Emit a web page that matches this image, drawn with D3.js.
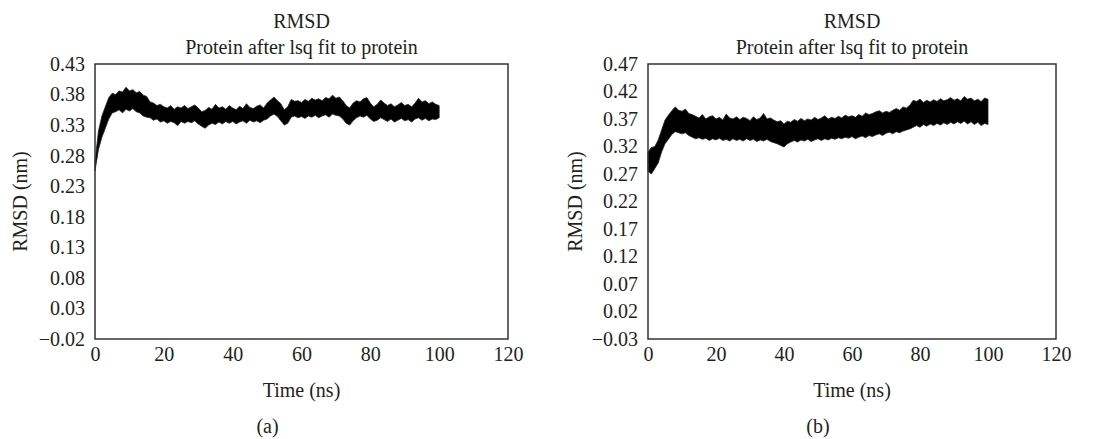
<!DOCTYPE html>
<html>
<head>
    <meta charset="utf-8">
    <title>RMSD</title>
    <style>
        body { margin: 0; background: #fff; }
        text { font-family: "Liberation Serif", "DejaVu Serif", serif; fill: #231f20; }
        .frame { fill: none; stroke: #333; stroke-width: 1.5px; }
        .band { fill: #000; stroke: #222; stroke-width: 0.8px; stroke-linejoin: miter; }
    </style>
</head>
<body>
<script src="https://cdn.jsdelivr.net/npm/d3@7"></script>
<script>
    // time axis shared by both traces (ns)
    var timeNs = d3.range(0, 101);

    // panel (a): lower / upper envelope of the RMSD trace (nm)
    var rmsdA_lo = [0.255, 0.29, 0.31, 0.325, 0.340, 0.350, 0.352, 0.355, 0.350, 0.356,
        0.353, 0.357, 0.352, 0.350, 0.345, 0.343, 0.342, 0.338, 0.340, 0.335,
        0.337, 0.333, 0.336, 0.334, 0.329, 0.336, 0.333, 0.336, 0.334, 0.337,
        0.332, 0.328, 0.325, 0.330, 0.333, 0.331, 0.335, 0.332, 0.336, 0.333,
        0.336, 0.332, 0.335, 0.337, 0.333, 0.338, 0.335, 0.337, 0.334, 0.338,
        0.340, 0.345, 0.348, 0.344, 0.337, 0.330, 0.333, 0.343, 0.345, 0.342,
        0.344, 0.341, 0.345, 0.343, 0.346, 0.342, 0.345, 0.347, 0.343, 0.348,
        0.346, 0.345, 0.340, 0.333, 0.330, 0.337, 0.342, 0.345, 0.343, 0.346,
        0.340, 0.336, 0.338, 0.342, 0.339, 0.336, 0.340, 0.335, 0.338, 0.341,
        0.337, 0.339, 0.335, 0.340, 0.342, 0.338, 0.341, 0.337, 0.340, 0.339, 0.342];
    var rmsdA_hi = [0.27, 0.32, 0.345, 0.360, 0.375, 0.382, 0.380, 0.386, 0.384, 0.392,
        0.386, 0.388, 0.383, 0.385, 0.379, 0.377, 0.368, 0.366, 0.362, 0.364,
        0.360, 0.358, 0.362, 0.356, 0.360, 0.358, 0.362, 0.357, 0.360, 0.363,
        0.358, 0.352, 0.354, 0.359, 0.356, 0.364, 0.358, 0.360, 0.356, 0.362,
        0.358, 0.355, 0.361, 0.357, 0.365, 0.359, 0.357, 0.361, 0.363, 0.358,
        0.366, 0.371, 0.376, 0.370, 0.365, 0.355, 0.360, 0.372, 0.369, 0.370,
        0.367, 0.372, 0.369, 0.374, 0.371, 0.373, 0.370, 0.375, 0.373, 0.379,
        0.374, 0.376, 0.370, 0.362, 0.358, 0.366, 0.370, 0.368, 0.373, 0.375,
        0.366, 0.360, 0.364, 0.371, 0.366, 0.362, 0.365, 0.360, 0.363, 0.367,
        0.362, 0.364, 0.360, 0.366, 0.374, 0.368, 0.370, 0.365, 0.368, 0.364, 0.362];

    // panel (b)
    var rmsdB_lo = [0.275, 0.270, 0.280, 0.290, 0.310, 0.325, 0.333, 0.342, 0.347, 0.345,
        0.343, 0.345, 0.340, 0.337, 0.334, 0.336, 0.333, 0.335, 0.331, 0.334,
        0.332, 0.335, 0.331, 0.333, 0.330, 0.334, 0.331, 0.333, 0.330, 0.334,
        0.331, 0.333, 0.329, 0.332, 0.330, 0.333, 0.329, 0.327, 0.325, 0.322,
        0.319, 0.325, 0.328, 0.331, 0.328, 0.332, 0.330, 0.333, 0.329, 0.332,
        0.334, 0.331, 0.334, 0.332, 0.335, 0.333, 0.336, 0.334, 0.337, 0.335,
        0.338, 0.334, 0.337, 0.339, 0.336, 0.340, 0.338, 0.341, 0.343, 0.340,
        0.344, 0.346, 0.343, 0.347, 0.345, 0.348, 0.350, 0.352, 0.355, 0.358,
        0.355, 0.360, 0.357, 0.361, 0.358, 0.362, 0.359, 0.363, 0.360, 0.364,
        0.361, 0.365, 0.362, 0.366, 0.361, 0.365, 0.360, 0.364, 0.358, 0.362, 0.360];
    var rmsdB_hi = [0.310, 0.318, 0.320, 0.332, 0.350, 0.368, 0.377, 0.385, 0.392, 0.386,
        0.384, 0.388, 0.380, 0.378, 0.375, 0.372, 0.378, 0.370, 0.374, 0.376,
        0.370, 0.373, 0.368, 0.379, 0.372, 0.370, 0.374, 0.369, 0.373, 0.371,
        0.367, 0.374, 0.369, 0.372, 0.380, 0.370, 0.372, 0.368, 0.365, 0.367,
        0.361, 0.366, 0.364, 0.369, 0.366, 0.371, 0.367, 0.370, 0.368, 0.373,
        0.369, 0.372, 0.376, 0.370, 0.373, 0.371, 0.375, 0.372, 0.377, 0.374,
        0.376, 0.373, 0.378, 0.375, 0.381, 0.378, 0.380, 0.383, 0.385, 0.381,
        0.384, 0.382, 0.386, 0.389, 0.386, 0.392, 0.390, 0.395, 0.404, 0.402,
        0.406, 0.400, 0.404, 0.401, 0.405, 0.402, 0.407, 0.403, 0.405, 0.409,
        0.404, 0.407, 0.403, 0.411, 0.406, 0.408, 0.403, 0.406, 0.402, 0.408, 0.406];

    var xTicks = [0, 20, 40, 60, 80, 100, 120];
    var yTicksA = [-0.02, 0.03, 0.08, 0.13, 0.18, 0.23, 0.28, 0.33, 0.38, 0.43];
    var yTicksB = [-0.03, 0.02, 0.07, 0.12, 0.17, 0.22, 0.27, 0.32, 0.37, 0.42, 0.47];

    var svg = d3.select("body").append("svg")
        .attr("width", 1096)
        .attr("height", 439);

    function drawPanel(p) {
        var g = svg.append("g")
            .attr("transform", "translate(" + p.left + "," + p.top + ")");

        var x = d3.scaleLinear().domain([0, 120]).range([0, p.width]);
        var y = d3.scaleLinear()
            .domain([p.yTicks[0], p.yTicks[p.yTicks.length - 1]])
            .range([p.height, 0]);

        // trace band between the read-off lower and upper envelopes
        var rows = timeNs.map(function (t, i) {
            return {t: t, lo: p.lo[i], hi: p.hi[i]};
        });
        var area = d3.area()
            .x(function (d) { return x(d.t); })
            .y0(function (d) { return y(d.lo); })
            .y1(function (d) { return y(d.hi); });
        g.append("path")
            .datum(rows)
            .attr("class", "band")
            .attr("d", area);

        // frame
        g.append("rect")
            .attr("class", "frame")
            .attr("width", p.width)
            .attr("height", p.height);

        // axes without tick marks
        var yAxis = g.append("g")
            .call(d3.axisLeft(y).tickValues(p.yTicks).tickSize(0).tickPadding(10)
                .tickFormat(function (d) { return d3.format(".2f")(d).replace("-", "\u2212"); }));
        var xAxis = g.append("g")
            .attr("transform", "translate(0," + p.height + ")")
            .call(d3.axisBottom(x).tickValues(xTicks).tickSize(0).tickPadding(8));
        [xAxis, yAxis].forEach(function (a) {
            a.select(".domain").remove();
            a.selectAll("text")
                .style("font-family", "Liberation Serif, serif")
                .style("font-size", "20px")
                .attr("fill", "#231f20");
        });

        // titles
        g.append("text")
            .attr("x", p.width / 2)
            .attr("y", -36)
            .attr("text-anchor", "middle")
            .style("font-size", "20px")
            .text("RMSD");
        g.append("text")
            .attr("x", p.width / 2)
            .attr("y", -10)
            .attr("text-anchor", "middle")
            .style("font-size", "20px")
            .text("Protein after lsq fit to protein");

        g.append("text")
            .attr("x", p.width / 2)
            .attr("y", p.height + 58)
            .attr("text-anchor", "middle")
            .style("font-size", "20px")
            .text("Time (ns)");

        g.append("text")
            .attr("transform", "translate(" + p.yLabelX + "," + (p.height / 2) + ") rotate(-90)")
            .attr("text-anchor", "middle")
            .attr("dy", "0.35em")
            .style("font-size", "20px")
            .text("RMSD (nm)");

        g.append("text")
            .attr("x", p.width / 2 - 34)
            .attr("y", p.height + 94)
            .attr("text-anchor", "middle")
            .style("font-size", "20px")
            .text(p.tag);
    }

    drawPanel({left: 95, top: 64, width: 413, height: 275, lo: rmsdA_lo, hi: rmsdA_hi,
        yTicks: yTicksA, yLabelX: -75, tag: "(a)"});
    drawPanel({left: 648, top: 64, width: 408, height: 275, lo: rmsdB_lo, hi: rmsdB_hi,
        yTicks: yTicksB, yLabelX: -73, tag: "(b)"});
</script>
</body>
</html>
